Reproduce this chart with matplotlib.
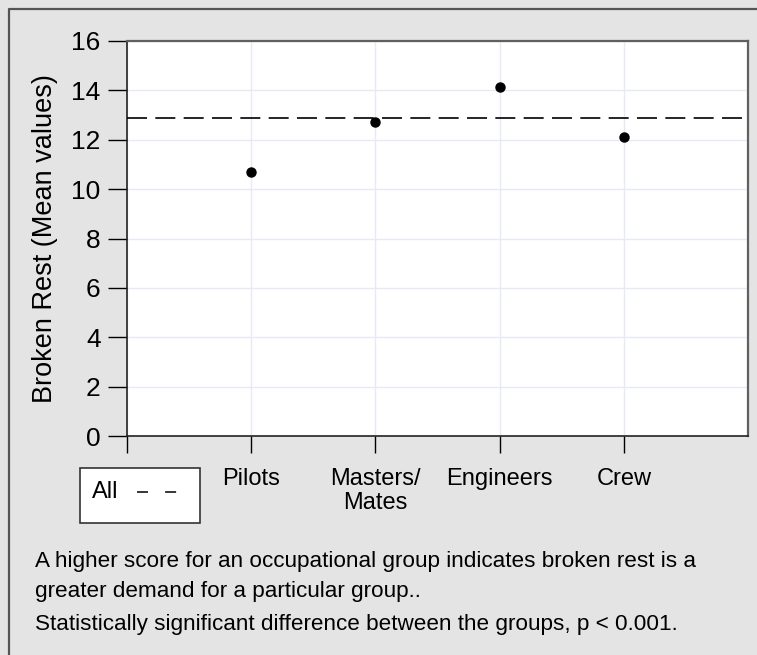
import matplotlib
import matplotlib.pyplot as plt
from matplotlib.lines import Line2D
from matplotlib.patches import Rectangle

plt.rcParams['font.family'] = ['Liberation Sans', 'DejaVu Sans']

groups = ['Pilots', 'Masters/\nMates', 'Engineers', 'Crew']
means = [10.68, 12.72, 14.13, 12.10]
all_mean = 12.88
yticks = [0, 2, 4, 6, 8, 10, 12, 14, 16]
notes = ['A higher score for an occupational group indicates broken rest is a',
         'greater demand for a particular group..',
         'Statistically significant difference between the groups, p < 0.001.']

W, H = 757, 655
fig = plt.figure(figsize=(W / 100, H / 100), dpi=100, facecolor='#e4e4e4')
ax = fig.add_axes([127/W, 1 - 436/H, 621/W, 395/H])
ax.set_facecolor('white')

xs = list(range(1, len(groups) + 1))
ax.axhline(all_mean, color='black', lw=1.2, dashes=(12, 5), zorder=3)
ax.plot(xs, means, 'o', color='black', ms=6.5, zorder=4)

ax.set_xlim(0, 5)
ax.set_ylim(0, 16)
ax.set_yticks(yticks)
ax.set_xticks([0] + xs)
ax.set_xticklabels([''] + groups, linespacing=1.1)
ax.grid(True, color='#e6eaf5', lw=1)
ax.set_axisbelow(True)

ax.tick_params(axis='y', direction='out', length=14, width=1, pad=5, labelsize=19, colors='black')
ax.tick_params(axis='x', direction='out', length=12, width=1, pad=11, labelsize=17)
ax.set_ylabel('Broken Rest (Mean values)', fontsize=19.5)
ax.yaxis.label.set_va('center')
ax.yaxis.set_label_coords((45 - 127) / 621, 0.5)

for s in ['top', 'right']:
    ax.spines[s].set_color('#606060')
    ax.spines[s].set_linewidth(1.6)
for s in ['left', 'bottom']:
    ax.spines[s].set_color('#222222')
    ax.spines[s].set_linewidth(1.2)

# legend-like box
fig.patches.append(Rectangle((80/W, 1 - 523/H), 120/W, 55/H, transform=fig.transFigure,
                             facecolor='white', edgecolor='#333333', lw=1.2))
fig.text(92/W, 1 - 492/H, 'All', fontsize=17, va='center')
fig.add_artist(Line2D([137/W, 178/W], [1 - 492/H, 1 - 492/H], color='black', lw=1.1,
                      dashes=(7.2, 11.2), transform=fig.transFigure))

# outer frame
fig.add_artist(Line2D([8.5/W, 8.5/W, 1.0], [0, 1 - 8.5/H, 1 - 8.5/H], color='#555555', lw=1.6,
                      transform=fig.transFigure))

for txt, base in zip(notes, [567, 597, 630]):
    fig.text(35/W, 1 - base/H, txt, fontsize=16.2, va='baseline')

plt.savefig('out.png', dpi=100, facecolor=fig.get_facecolor())
